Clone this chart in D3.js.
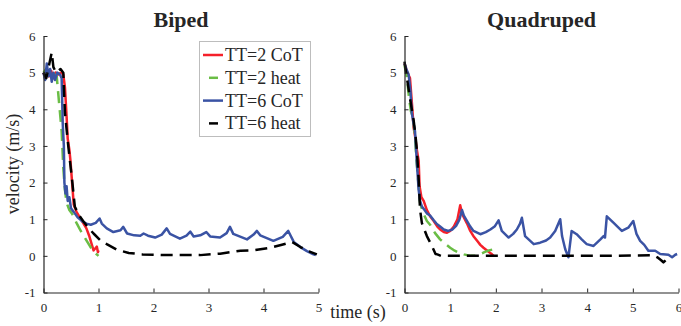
<!DOCTYPE html>
<html>
<head>
<meta charset="utf-8">
<script src="https://cdn.jsdelivr.net/npm/d3@7/dist/d3.min.js"></script>
<style>
  html, body { margin: 0; padding: 0; background: #fff; }
  svg { display: block; }
  text { font-family: "Liberation Serif", "Times New Roman", serif; fill: #262626; }
</style>
</head>
<body>
<svg id="chart" width="681" height="326"></svg>
<script>
// ---------- data ----------
const titles = ["Biped", "Quadruped"];
const legendLabels = ["TT=2 CoT", "TT=2 heat", "TT=6 CoT", "TT=6 heat"];
const yTicks = [-1, 0, 1, 2, 3, 4, 5, 6];
const xTicksBiped = [0, 1, 2, 3, 4, 5];
const xTicksQuad = [0, 1, 2, 3, 4, 5, 6];

const bipedTT2CoT = [[0,5.0],[0.03,4.85],[0.06,5.1],[0.1,4.9],[0.14,5.05],[0.18,4.85],[0.22,5.0],[0.27,4.95],[0.32,5.0],[0.36,4.95],[0.39,4.6],[0.42,3.8],[0.44,3.2],[0.47,2.9],[0.49,2.6],[0.52,2.0],[0.55,1.4],[0.6,1.2],[0.66,1.05],[0.72,0.9],[0.78,0.75],[0.83,0.55],[0.87,0.35],[0.91,0.15],[0.94,0.2],[0.97,0.25],[0.99,0.1],[1.0,0.15]];
const bipedTT2Heat = [[0,5.0],[0.05,5.1],[0.1,4.9],[0.15,5.0],[0.2,4.95],[0.24,4.9],[0.27,4.4],[0.3,3.9],[0.33,3.4],[0.36,2.4],[0.39,1.8],[0.42,1.45],[0.47,1.25],[0.52,1.15],[0.6,0.9],[0.67,0.7],[0.75,0.5],[0.85,0.25],[0.92,0.1],[1.0,0.0]];
const bipedTT6CoT = [[0,5.0],[0.03,4.8],[0.06,5.25],[0.09,4.9],[0.12,5.1],[0.15,4.75],[0.18,5.0],[0.21,4.8],[0.25,5.0],[0.3,4.95],[0.33,4.85],[0.35,3.6],[0.37,3.0],[0.38,2.0],[0.4,1.7],[0.42,1.9],[0.44,1.5],[0.47,1.6],[0.5,1.3],[0.55,1.2],[0.62,1.05],[0.7,0.95],[0.78,0.88],[0.86,0.85],[0.95,0.9],[1.02,1.02],[1.06,0.88],[1.15,0.75],[1.27,0.65],[1.4,0.7],[1.45,0.79],[1.52,0.61],[1.65,0.56],[1.76,0.55],[1.82,0.61],[1.9,0.55],[2.03,0.5],[2.15,0.58],[2.24,0.75],[2.3,0.6],[2.48,0.47],[2.6,0.55],[2.67,0.66],[2.73,0.53],[2.85,0.56],[2.96,0.65],[3.03,0.53],[3.21,0.5],[3.33,0.62],[3.39,0.79],[3.45,0.6],[3.7,0.45],[3.82,0.58],[3.88,0.68],[3.94,0.56],[4.18,0.41],[4.35,0.52],[4.45,0.68],[4.55,0.38],[4.67,0.24],[4.79,0.13],[4.91,0.04],[4.95,0.02]];
const bipedTT6Heat = [[0,5.0],[0.05,4.85],[0.1,5.2],[0.15,5.55],[0.18,5.15],[0.23,5.0],[0.27,5.05],[0.31,5.1],[0.36,5.0],[0.39,3.9],[0.45,3.0],[0.52,2.07],[0.57,1.34],[0.65,1.1],[0.73,0.93],[0.82,0.76],[0.91,0.61],[1.03,0.43],[1.15,0.32],[1.33,0.17],[1.55,0.08],[1.8,0.04],[2.24,0.02],[2.85,0.02],[3.21,0.06],[3.58,0.14],[3.82,0.15],[4.12,0.22],[4.3,0.29],[4.52,0.38],[4.67,0.24],[4.85,0.11],[4.97,0.04]];

const quadTT2CoT = [[0,5.25],[0.06,5.0],[0.12,4.85],[0.16,4.2],[0.2,3.5],[0.24,3.2],[0.27,2.9],[0.31,2.6],[0.33,1.9],[0.37,1.6],[0.42,1.5],[0.49,1.25],[0.56,1.08],[0.64,0.95],[0.72,0.8],[0.78,0.72],[0.86,0.65],[0.93,0.63],[1.0,0.68],[1.08,0.8],[1.16,1.0],[1.22,1.38],[1.26,1.15],[1.3,1.05],[1.37,0.88],[1.44,0.68],[1.52,0.52],[1.59,0.41],[1.66,0.3],[1.73,0.22],[1.82,0.13],[1.9,0.06],[1.95,0.0]];
const quadTT2Heat = [[0,5.2],[0.05,4.9],[0.1,4.3],[0.14,3.95],[0.18,3.8],[0.22,3.4],[0.27,2.5],[0.31,1.9],[0.34,1.45],[0.4,1.2],[0.49,0.95],[0.56,0.85],[0.67,0.62],[0.78,0.45],[0.9,0.32],[1.0,0.22],[1.1,0.14],[1.2,0.08],[1.3,0.04],[1.45,0.0],[1.55,0.0],[1.65,0.04],[1.75,0.1],[1.85,0.15],[1.92,0.17]];
const quadTT6CoT = [[0,5.25],[0.04,5.1],[0.09,4.95],[0.13,4.5],[0.16,3.9],[0.2,3.6],[0.23,3.4],[0.27,2.55],[0.31,1.8],[0.34,1.5],[0.38,1.35],[0.44,1.25],[0.49,1.16],[0.56,1.1],[0.64,0.97],[0.7,0.88],[0.78,0.8],[0.86,0.72],[0.96,0.68],[1.05,0.72],[1.13,0.82],[1.2,0.98],[1.26,1.25],[1.3,1.1],[1.37,0.95],[1.44,0.8],[1.51,0.68],[1.66,0.59],[1.78,0.65],[1.88,0.72],[1.98,0.81],[2.06,0.97],[2.13,0.68],[2.28,0.5],[2.38,0.6],[2.46,0.72],[2.53,0.88],[2.57,1.04],[2.64,0.54],[2.83,0.32],[2.97,0.36],[3.1,0.42],[3.19,0.5],[3.3,0.68],[3.41,1.0],[3.45,0.54],[3.52,0.18],[3.59,-0.04],[3.62,0.27],[3.66,0.68],[3.77,0.59],[3.88,0.45],[3.99,0.32],[4.14,0.27],[4.29,0.45],[4.36,0.54],[4.39,0.5],[4.43,1.08],[4.58,0.9],[4.68,0.78],[4.76,0.68],[4.9,0.77],[5.01,0.95],[5.08,0.6],[5.16,0.41],[5.25,0.3],[5.34,0.14],[5.49,0.14],[5.6,0.05],[5.78,0.03],[5.86,-0.04],[5.93,0.03],[5.97,0.05]];
const quadTT6Heat = [[0,5.3],[0.06,4.8],[0.12,4.3],[0.2,3.7],[0.24,3.3],[0.27,2.9],[0.31,2.1],[0.34,1.27],[0.38,0.9],[0.44,0.7],[0.49,0.54],[0.6,0.27],[0.68,0.05],[0.72,0.04],[0.8,0.0],[1.5,0.0],[2.5,0.0],[3.5,0.0],[4.5,0.0],[5.45,0.02],[5.55,-0.05],[5.62,-0.12],[5.67,-0.18],[5.72,-0.12],[5.78,-0.03]];

// ---------- styles ----------
const seriesStyles = [
  { color: "#f5202a", dash: null },
  { color: "#6abd45", dash: "12,7" },
  { color: "#3a53a4", dash: null },
  { color: "#000000", dash: "12,7" }
];

const svg = d3.select("#chart");

const panels = [
  { title: titles[0], xMax: 5, xTicks: xTicksBiped, x0: 43.5, x1: 318.5, y0: 292.5, y1: 36,
    series: [bipedTT2CoT, bipedTT2Heat, bipedTT6CoT, bipedTT6Heat] },
  { title: titles[1], xMax: 6, xTicks: xTicksQuad, x0: 404.5, x1: 678.5, y0: 292.5, y1: 36,
    series: [quadTT2CoT, quadTT2Heat, quadTT6CoT, quadTT6Heat] }
];

const fmt = d => String(d).replace("\u2212", "-");

panels.forEach(p => {
  const x = d3.scaleLinear().domain([0, p.xMax]).range([p.x0, p.x1]);
  const y = d3.scaleLinear().domain([-1, 6]).range([p.y0, p.y1]);
  const g = svg.append("g");

  const line = d3.line().x(d => x(d[0])).y(d => y(d[1]));
  p.series.forEach((s, i) => {
    const st = seriesStyles[i];
    g.append("path")
      .attr("d", line(s))
      .attr("fill", "none")
      .attr("stroke", st.color)
      .attr("stroke-width", 2.5)
      .attr("stroke-linejoin", "round")
      .attr("stroke-dasharray", st.dash);
  });

  const xAxis = d3.axisBottom(x).tickValues(p.xTicks).tickFormat(fmt).tickSizeInner(-4).tickSizeOuter(0).tickPadding(8);
  const yAxis = d3.axisLeft(y).tickValues(yTicks).tickFormat(fmt).tickSizeInner(-4).tickSizeOuter(0).tickPadding(8);
  const gx = g.append("g").attr("transform", `translate(0,${p.y0})`).call(xAxis);
  const gy = g.append("g").attr("transform", `translate(${p.x0},0)`).call(yAxis);
  [gx, gy].forEach(a => {
    a.attr("font-family", "Liberation Serif").attr("font-size", 13);
    a.select(".domain").attr("stroke", "#262626").attr("stroke-width", 1.2);
    a.selectAll(".tick line").attr("stroke", "#262626").attr("stroke-width", 1);
    a.selectAll(".tick text").style("font-family", "'Liberation Serif', serif").style("font-size", "13px").attr("fill", "#262626");
  });
  gx.selectAll(".tick text").attr("dy", "0.85em");

  svg.append("text")
    .attr("x", (p.x0 + p.x1) / 2)
    .attr("y", 27)
    .attr("text-anchor", "middle")
    .style("font-size", "22px")
    .style("font-weight", "bold")
    .attr("fill", "#000")
    .text(p.title);
});

svg.append("text")
  .attr("transform", "translate(19,164) rotate(-90)")
  .attr("text-anchor", "middle")
  .style("font-size", "18px")
  .text("velocity (m/s)");
svg.append("text")
  .attr("x", 358)
  .attr("y", 318)
  .attr("text-anchor", "middle")
  .style("font-size", "18px")
  .text("time (s)");

const lg = svg.append("g");
lg.append("rect")
  .attr("x", 199.5).attr("y", 41.5).attr("width", 111).attr("height", 95)
  .attr("fill", "#fff").attr("stroke", "#bdbdbd").attr("stroke-width", 1);
legendLabels.forEach((lab, i) => {
  const cy = 55 + i * 22.8;
  const st = seriesStyles[i];
  if (st.dash) {
    lg.append("line").attr("x1", 209).attr("x2", 218).attr("y1", cy).attr("y2", cy)
      .attr("stroke", st.color).attr("stroke-width", 2.5);
  } else {
    lg.append("line").attr("x1", 203).attr("x2", 223).attr("y1", cy).attr("y2", cy)
      .attr("stroke", st.color).attr("stroke-width", 2.5);
  }
  lg.append("text").attr("x", 225).attr("y", cy + 6)
    .style("font-size", "18px").attr("fill", "#000").text(lab);
});
</script>
</body>
</html>
